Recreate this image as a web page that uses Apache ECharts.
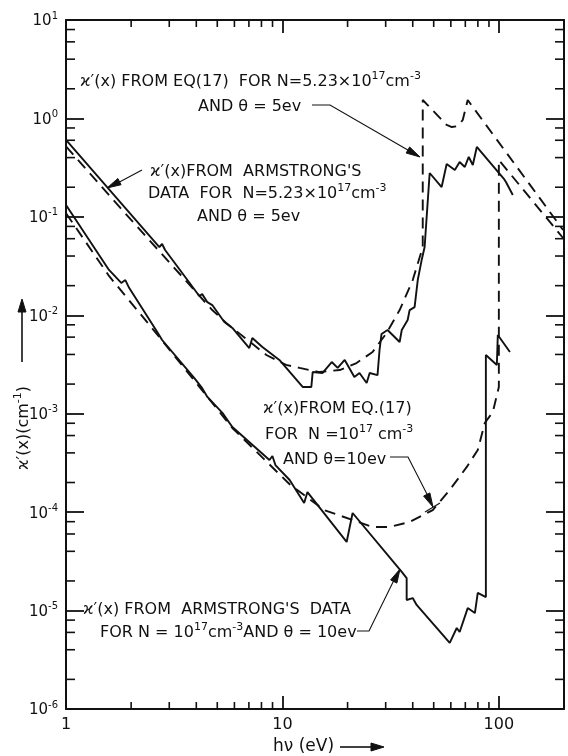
<!DOCTYPE html>
<html>
<head>
<meta charset="utf-8">
<script src="https://cdn.jsdelivr.net/npm/echarts@6/dist/echarts.min.js"></script>
<style>
  html, body { margin: 0; padding: 0; background: #fff; }
  #chart { width: 568px; height: 756px; }
</style>
</head>
<body>
<div id="chart"></div>
<script>
// Absorption coefficient ϰ′(x) (cm⁻¹) against photon energy hν (eV)

// Armstrong's data, N = 5.23×10¹⁷ cm⁻³, θ = 5 eV
const armstrongHigh = [
  [1, 0.604], [2.70, 0.0494], [2.78, 0.0530], [2.87, 0.0461], [4.13, 0.0157],
  [4.26, 0.0164], [4.50, 0.0136], [4.74, 0.0127], [5.39, 0.00855], [5.87, 0.00743],
  [7.03, 0.00465], [7.26, 0.00588], [8.08, 0.00476], [9.68, 0.00352], [12.4, 0.00187],
  [13.6, 0.00187], [13.8, 0.00265], [15.3, 0.00259], [16.9, 0.00335], [18.0, 0.00292],
  [19.4, 0.00352], [21.5, 0.00236], [22.7, 0.00259], [24.5, 0.00205], [25.3, 0.00259],
  [27.5, 0.00247], [28.1, 0.00444], [28.7, 0.00646], [30.6, 0.00709], [34.8, 0.00535],
  [35.6, 0.00709], [37.9, 0.00895], [38.7, 0.0113], [40.8, 0.0121], [42.2, 0.0228],
  [44.0, 0.0365], [45.4, 0.0494], [47.9, 0.279], [54.4, 0.201], [57.4, 0.344],
  [62.6, 0.299], [65.9, 0.361], [69.6, 0.321], [72.6, 0.406], [75.8, 0.336],
  [79.1, 0.513], [106, 0.240], [108, 0.225], [110, 0.232], [116, 0.167]
];

// Eq. (17), N = 5.23×10¹⁷ cm⁻³, θ = 5 eV
const eq17High = [
  [1, 0.52], [2.0, 0.0930], [4.74, 0.0113], [5.50, 0.00835], [8.43, 0.00395],
  [10.4, 0.00313], [12.0, 0.00292], [14.8, 0.00265], [18.4, 0.00278], [22.0, 0.00327],
  [26.1, 0.00424], [30.3, 0.00661], [34.8, 0.0113], [40.0, 0.0228], [43.1, 0.0391],
  [44.5, 0.0483], [44.5, 1.54], [57.4, 0.858], [60.6, 0.818], [64.6, 0.836],
  [68.1, 0.964], [71.8, 1.54], [198, 0.0736]
];

// Armstrong's data, N = 10¹⁷ cm⁻³, θ = 10 eV
const armstrongLow = [
  [1, 0.132], [1.58, 0.0289], [1.80, 0.0213], [1.88, 0.0228], [1.96, 0.0189],
  [2.64, 0.00677], [2.78, 0.00561], [3.91, 0.00231], [4.26, 0.00182], [4.50, 0.00148],
  [5.28, 0.00102], [5.87, 0.000733], [8.71, 0.000339], [8.99, 0.000372], [9.28, 0.000301],
  [10.8, 0.000212], [12.6, 0.000124], [13.05, 0.000160], [19.8, 0.0000498], [21.1, 0.0000980],
  [35.6, 0.0000247], [37.5, 0.0000214], [37.5, 0.0000128], [40.0, 0.0000134], [41.7, 0.0000114],
  [59.3, 0.00000469], [63.9, 0.00000665], [65.9, 0.00000606], [71.8, 0.0000106], [77.5, 0.00000944],
  [79.9, 0.0000151], [87.1, 0.0000137], [87.1, 0.00395], [97.9, 0.00313], [98.9, 0.00631],
  [112.5, 0.00424]
];

// Eq. (17), N = 10¹⁷ cm⁻³, θ = 10 eV
const eq17Low = [
  [1, 0.109], [1.58, 0.0251], [2.70, 0.00601], [5.87, 0.000716], [10.77, 0.000193],
  [15.6, 0.000105], [21.1, 0.0000832], [26.1, 0.0000707], [31.3, 0.0000707], [38.7, 0.0000794],
  [49.5, 0.000105], [59.3, 0.000168], [71.1, 0.000288], [79.9, 0.000428], [86.1, 0.000805],
  [93.8, 0.00104], [100, 0.00187], [100, 0.378], [198, 0.061]
];

// axis ranges and tick marks
const xRange = [1, 200];
const yRange = [1e-6, 10];
const xTickLabels = ['1', '10', '100'];
const xMinorTicks = [2, 3, 4, 5, 6, 7, 8, 9, 20, 30, 40, 50, 60, 70, 80, 90];
const yMinorTicks = [
  2e-6, 4e-6, 6e-6, 8e-6, 2e-5, 4e-5, 6e-5, 8e-5, 2e-4, 4e-4, 6e-4, 8e-4,
  2e-3, 4e-3, 6e-3, 8e-3, 2e-2, 4e-2, 6e-2, 8e-2, 0.2, 0.4, 0.6, 0.8, 2, 4, 6, 8
];

const FONT = 'DejaVu Sans';
const INK = '#111';
const LABEL_SIZE = 16;

const chart = echarts.init(document.getElementById('chart'), null, { renderer: 'canvas' });

function isDecade(v) {
  const e = Math.log10(v);
  return Math.abs(e - Math.round(e)) < 1e-6;
}

function minorTicks(values, dir) {
  return {
    type: 'custom',
    silent: true,
    clip: false,
    z: 5,
    data: values.map(v => (dir === 'x' ? [v, 1] : [1, v])),
    renderItem: (params, api) => {
      const cs = params.coordSys;
      const p = api.coord([api.value(0), api.value(1)]);
      const L = dir === 'x' ? 7 : 9;
      const segs = dir === 'x'
        ? [[p[0], cs.y + cs.height, p[0], cs.y + cs.height - L], [p[0], cs.y, p[0], cs.y + L]]
        : [[cs.x, p[1], cs.x + L, p[1]], [cs.x + cs.width, p[1], cs.x + cs.width - L, p[1]]];
      return {
        type: 'group',
        children: segs.map(s => ({
          type: 'line',
          shape: { x1: s[0], y1: s[1], x2: s[2], y2: s[3] },
          style: { stroke: INK, lineWidth: 1.6 }
        }))
      };
    }
  };
}

const axisLineStyle = { lineStyle: { color: INK, width: 2 } };

function xAxisDef(pos, withLabels) {
  return {
    type: 'log', logBase: 10, min: xRange[0], max: xRange[1], position: pos,
    splitNumber: 3,
    axisLine: axisLineStyle,
    axisTick: { show: true, inside: true, length: 13, lineStyle: { color: INK, width: 1.8 } },
    axisLabel: {
      show: withLabels, margin: 8, color: INK, fontFamily: FONT, fontSize: 16,
      formatter: v => {
        if (!isDecade(v)) return '';
        const idx = Math.round(Math.log10(v));
        return xTickLabels[idx] || '';
      }
    },
    splitLine: { show: false }, minorTick: { show: false }
  };
}

function yAxisDef(pos, withLabels) {
  return {
    type: 'log', logBase: 10, min: yRange[0], max: yRange[1], position: pos,
    splitNumber: 7,
    axisLine: axisLineStyle,
    axisTick: { show: true, inside: true, length: 18, lineStyle: { color: INK, width: 1.8 } },
    axisLabel: {
      show: withLabels, margin: 8, color: INK, fontFamily: FONT,
      formatter: v => {
        if (!isDecade(v)) return '';
        return '{b|10}{s|' + Math.round(Math.log10(v)) + '}';
      },
      rich: {
        b: { fontFamily: FONT, fontSize: 15, color: INK, lineHeight: 18, verticalAlign: 'bottom' },
        s: { fontFamily: FONT, fontSize: 10, color: INK, lineHeight: 18, verticalAlign: 'top' }
      }
    },
    splitLine: { show: false }, minorTick: { show: false }
  };
}

function curve(name, data, dashed) {
  return {
    name, type: 'line', data, showSymbol: false, symbol: 'none', smooth: false,
    silent: true, animation: false, z: 4,
    lineStyle: { color: INK, width: 1.9, type: dashed ? [11, 7] : 'solid' }
  };
}

chart.setOption({
  animation: false,
  backgroundColor: '#fff',
  grid: { left: 66, right: 4, top: 20, bottom: 47, containLabel: false },
  xAxis: [xAxisDef('bottom', true), xAxisDef('top', false)],
  yAxis: [yAxisDef('left', true), yAxisDef('right', false)],
  series: [
    curve('Armstrong N=5.23e17', armstrongHigh, false),
    curve('Eq17 N=5.23e17', eq17High, true),
    curve('Armstrong N=1e17', armstrongLow, false),
    curve('Eq17 N=1e17', eq17Low, true),
    minorTicks(xMinorTicks, 'x'),
    minorTicks(yMinorTicks, 'y')
  ]
});

// annotation text, leader lines and arrowheads
const richText = {
  t: { fontFamily: FONT, fontSize: LABEL_SIZE, fill: INK, lineHeight: 19, verticalAlign: 'bottom' },
  s: { fontFamily: FONT, fontSize: 11, fill: INK, lineHeight: 19, verticalAlign: 'top' }
};

function label(x, y, text) {
  return {
    type: 'text', x, y, silent: true, z: 10,
    style: { text, rich: richText, fill: INK, align: 'left', verticalAlign: 'middle',
             textAlign: 'left', textVerticalAlign: 'middle', font: LABEL_SIZE + 'px ' + FONT }
  };
}

function leader(points) {
  return { type: 'polyline', silent: true, z: 10, shape: { points },
           style: { stroke: INK, lineWidth: 1.1, fill: null } };
}

function arrowHead(tip, from, len, half) {
  const dx = tip[0] - from[0], dy = tip[1] - from[1];
  const d = Math.hypot(dx, dy);
  const ux = dx / d, uy = dy / d;
  const bx = tip[0] - ux * len, by = tip[1] - uy * len;
  return {
    type: 'polygon', silent: true, z: 10,
    shape: { points: [tip, [bx - uy * half, by + ux * half], [bx + uy * half, by - ux * half]] },
    style: { fill: INK, stroke: INK, lineWidth: 1 }
  };
}

const graphics = [
  // Eq. (17), N = 5.23e17
  label(80, 80, '{t|ϰ′(x) FROM EQ(17)  FOR N=5.23×10}{s|17}{t|cm}{s|-3}'),
  label(198, 105, '{t|AND θ = 5ev}'),
  leader([[312, 105], [330, 105], [413, 153]]),
  arrowHead([420, 157], [330, 105], 14, 3.5),
  // Armstrong, N = 5.23e17
  label(150, 170, "{t|ϰ′(x)FROM  ARMSTRONG'S}"),
  label(148, 192, '{t|DATA  FOR  N=5.23×10}{s|17}{t|cm}{s|-3}'),
  label(197, 215, '{t|AND θ = 5ev}'),
  leader([[142, 170], [112, 186]]),
  arrowHead([107, 188], [142, 170], 14, 3.5),
  // Eq. (17), N = 1e17
  label(263, 407, '{t|ϰ′(x)FROM EQ.(17)}'),
  label(265, 433, '{t|FOR  N =10}{s|17}{t| cm}{s|-3}'),
  label(283, 458, '{t|AND θ=10ev}'),
  leader([[390, 457], [408, 457], [430, 500]]),
  arrowHead([433, 507], [408, 457], 14, 3.5),
  leader([[425, 512], [440, 503]]),
  // Armstrong, N = 1e17
  label(83, 608, "{t|ϰ′(x) FROM  ARMSTRONG'S  DATA}"),
  label(100, 631, '{t|FOR N = 10}{s|17}{t|cm}{s|-3}{t|AND θ = 10ev}'),
  leader([[357, 631], [369, 631], [396, 576]]),
  arrowHead([400, 569], [369, 631], 14, 3.5),
  // x-axis title with arrow
  {
    type: 'text', x: 273, y: 747, silent: true, z: 10,
    style: { text: 'hν (eV)', fill: INK, align: 'left', verticalAlign: 'middle',
             textAlign: 'left', textVerticalAlign: 'middle', font: '17px ' + FONT }
  },
  { type: 'line', silent: true, z: 10, shape: { x1: 340, y1: 747, x2: 372, y2: 747 },
    style: { stroke: INK, lineWidth: 1.6 } },
  arrowHead([384, 747], [340, 747], 13, 4),
  // y-axis title with arrow
  {
    type: 'text', x: 22, y: 470, rotation: Math.PI / 2, silent: true, z: 10,
    style: { text: '{t|ϰ′(x)(cm}{s|-1}{t|)}', rich: richText, fill: INK,
             align: 'left', verticalAlign: 'middle', textAlign: 'left', textVerticalAlign: 'middle',
             font: LABEL_SIZE + 'px ' + FONT }
  },
  { type: 'line', silent: true, z: 10, shape: { x1: 22, y1: 362, x2: 22, y2: 312 },
    style: { stroke: INK, lineWidth: 1.6 } },
  arrowHead([22, 299], [22, 362], 13, 4)
];

chart.setOption({ graphic: graphics });
</script>
</body>
</html>
